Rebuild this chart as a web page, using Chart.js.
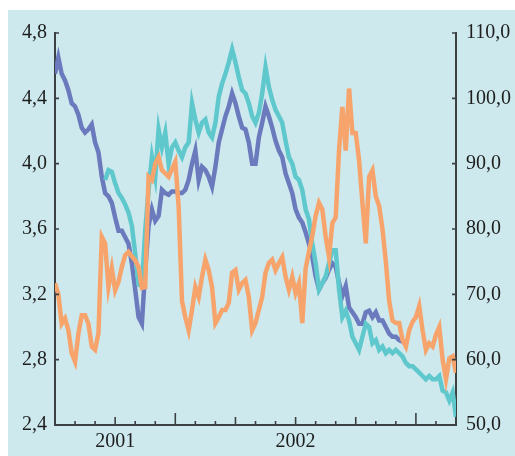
<!DOCTYPE html>
<html>
<head>
<meta charset="utf-8">
<script src="https://cdn.jsdelivr.net/npm/chart.js@4/dist/chart.umd.min.js"></script>
<style>
  body { margin: 0; background: #ffffff; }
  #wrap { position: absolute; left: 8px; top: 10px; width: 507px; height: 446px; background: #cde9ed; }
</style>
</head>
<body>
<div id="wrap"><canvas id="chart" width="507" height="446"></canvas></div>
<script>
// Three daily-ish series, one sample every ~5 days (6 per month), 20 months on the x axis

// left axis series
const purpleSeries = [
  4.55, 4.65, 4.55, 4.51, 4.45, 4.37, 4.35, 4.30, 4.22, 4.19,
  4.21, 4.24, 4.13, 4.07, 3.92, 3.82, 3.80, 3.76, 3.67, 3.59,
  3.59, 3.55, 3.51, 3.39, 3.23, 3.06, 3.02, 3.35, 3.62, 3.72,
  3.65, 3.68, 3.84, 3.82, 3.81, 3.83, 3.83, 3.82, 3.82, 3.84,
  3.90, 4.00, 4.08, 3.90, 3.98, 3.96, 3.92, 3.86, 3.98, 4.13,
  4.21, 4.29, 4.35, 4.43, 4.37, 4.29, 4.22, 4.21, 4.13, 4.00,
  4.00, 4.16, 4.25, 4.35, 4.29, 4.22, 4.14, 4.08, 4.04, 3.94,
  3.88, 3.82, 3.72, 3.67, 3.64, 3.58, 3.51, 3.43, 3.31, 3.23,
  3.27, 3.30, 3.35, 3.39, 3.37, 3.27, 3.19, 3.25, 3.12, 3.09,
  3.06, 3.02, 3.02, 3.09, 3.10, 3.06, 3.09, 3.04, 3.04, 3.00,
  2.96, 2.94, 2.94, 2.92, 2.91, null, null, null, null, null,
  null, null, null, null, null, null, null, null, null, null,
  null
];

const cyanSeries = [
  null, null, null, null, null, null, null, null, null, null,
  null, null, null, null, null, 3.90, 3.96, 3.95, 3.88, 3.82,
  3.79, 3.75, 3.70, 3.62, 3.45, 3.26, 3.25, 3.59, 3.84, 4.04,
  3.92, 4.21, 4.10, 4.19, 4.00, 4.10, 4.13, 4.08, 4.04, 4.10,
  4.13, 4.37, 4.27, 4.19, 4.25, 4.27, 4.19, 4.16, 4.25, 4.41,
  4.49, 4.55, 4.62, 4.70, 4.62, 4.53, 4.45, 4.43, 4.37, 4.29,
  4.25, 4.31, 4.43, 4.59, 4.47, 4.39, 4.33, 4.29, 4.25, 4.14,
  4.04, 4.00, 3.92, 3.90, 3.84, 3.72, 3.66, 3.51, 3.39, 3.23,
  3.27, 3.31, 3.39, 3.47, 3.47, 3.23, 3.06, 3.10, 3.04, 2.94,
  2.90, 2.86, 2.94, 3.02, 3.00, 2.90, 2.92, 2.86, 2.88, 2.84,
  2.86, 2.84, 2.86, 2.84, 2.82, 2.78, 2.76, 2.76, 2.74, 2.72,
  2.70, 2.68, 2.70, 2.68, 2.68, 2.70, 2.61, 2.60, 2.55, 2.60,
  2.45
];

// right axis series
const orangeSeries = [
  71.7, 70.0, 65.5, 66.3, 64.5, 61.0, 59.7, 64.0, 66.8, 66.8,
  65.5, 62.0, 61.5, 64.0, 78.8, 77.8, 71.1, 74.0, 70.6, 71.9,
  74.2, 76.0, 76.5, 75.8, 75.2, 74.2, 71.0, 71.1, 88.0, 87.5,
  90.0, 91.0, 89.0, 88.5, 88.0, 89.2, 90.3, 83.4, 69.0, 66.5,
  64.5, 67.6, 71.1, 69.6, 72.7, 75.3, 73.7, 71.1, 65.6, 66.5,
  67.6, 67.6, 68.7, 73.3, 73.7, 70.7, 71.7, 72.2, 69.6, 64.5,
  65.6, 67.6, 69.6, 73.3, 74.8, 75.3, 73.7, 74.8, 75.7, 72.7,
  70.7, 72.7, 70.2, 71.7, 65.6, 74.0, 76.5, 79.0, 82.0, 84.0,
  83.0, 78.8, 75.7, 80.9, 81.8, 92.1, 98.7, 92.0, 101.5, 94.7,
  94.7, 90.5, 84.0, 77.8, 88.0, 89.0, 85.0, 83.5, 80.0, 75.0,
  69.0, 66.0, 65.6, 65.6, 63.0, 62.0, 64.5, 65.8, 66.5, 68.2,
  64.5, 61.5, 62.5, 62.0, 63.8, 65.0, 60.0, 57.0, 60.2, 60.5,
  58.0
];

const samplesPerMonth = 6;
const monthCount = 20;

// x labels and the month they sit under
const yearLabels = ['2001', '2002'];
const yearLabelMonths = [3, 12];

// axis ranges
const leftMin = 2.4, leftMax = 4.8, leftStep = 0.4;
const rightMin = 50, rightMax = 110, rightStep = 10;

const axisColor = '#3c4244';
const textColor = '#1e1e1e';

function toPoints(values) {
    return values.map((v, i) => ({ x: i / samplesPerMonth, y: v }));
}

function commaNumber(v) {
    return v.toFixed(1).replace('.', ',');
}

// tick marks point into the plot; x ticks longer at quarters and years
const inwardTicks = {
    id: 'inwardTicks',
    afterDraw(chart) {
        const { ctx } = chart;
        const x = chart.scales.x, y = chart.scales.y, y1 = chart.scales.y1;
        ctx.save();
        ctx.strokeStyle = axisColor;
        ctx.lineWidth = 1.6;
        ctx.beginPath();
        x.ticks.forEach(t => {
            const px = x.getPixelForValue(t.value);
            let len = 4;
            if (t.value % 12 === 6) len = 12;
            else if (t.value % 3 === 0) len = 8;
            ctx.moveTo(px, x.top);
            ctx.lineTo(px, x.top - len);
        });
        y.ticks.forEach(t => {
            const py = y.getPixelForValue(t.value);
            ctx.moveTo(y.right, py);
            ctx.lineTo(y.right + 4, py);
        });
        y1.ticks.forEach(t => {
            const py = y1.getPixelForValue(t.value);
            ctx.moveTo(y1.left, py);
            ctx.lineTo(y1.left - 4, py);
        });
        ctx.stroke();
        ctx.restore();
    }
};

const font = { family: '"Liberation Serif", "Times New Roman", serif', size: 20 };

new Chart(document.getElementById('chart'), {
    type: 'line',
    data: {
        datasets: [
            {
                label: 'orange',
                data: toPoints(orangeSeries),
                yAxisID: 'y1',
                borderColor: '#f7a46c',
                order: 0
            },
            {
                label: 'cyan',
                data: toPoints(cyanSeries),
                yAxisID: 'y',
                borderColor: '#5ec8cd',
                order: 1
            },
            {
                label: 'purple',
                data: toPoints(purpleSeries),
                yAxisID: 'y',
                borderColor: '#6b79bd',
                order: 2
            }
        ]
    },
    options: {
        responsive: false,
        animation: false,
        layout: { padding: { top: 23 } },
        elements: {
            line: { borderWidth: 4.5, tension: 0, borderJoinStyle: 'miter' },
            point: { radius: 0 }
        },
        plugins: {
            legend: { display: false },
            tooltip: { enabled: false }
        },
        scales: {
            x: {
                type: 'linear',
                min: 0,
                max: monthCount,
                afterFit: s => { s.height = 31; },
                grid: { display: false, drawTicks: false },
                border: { display: true, color: axisColor, width: 2 },
                ticks: {
                    stepSize: 1,
                    autoSkip: false,
                    maxRotation: 0,
                    padding: 5,
                    color: textColor,
                    font: font,
                    callback: v => {
                        const i = yearLabelMonths.indexOf(v);
                        return i >= 0 ? yearLabels[i] : '';
                    }
                }
            },
            y: {
                position: 'left',
                min: leftMin,
                max: leftMax,
                afterFit: s => { s.width = 47; },
                grid: { display: false, drawTicks: false },
                border: { display: true, color: axisColor, width: 2 },
                ticks: {
                    stepSize: leftStep,
                    padding: 8,
                    color: textColor,
                    font: font,
                    callback: v => commaNumber(v)
                }
            },
            y1: {
                position: 'right',
                min: rightMin,
                max: rightMax,
                afterFit: s => { s.width = 59; },
                grid: { display: false, drawTicks: false },
                border: { display: true, color: axisColor, width: 2 },
                ticks: {
                    stepSize: rightStep,
                    padding: 10,
                    color: textColor,
                    font: font,
                    callback: v => commaNumber(v)
                }
            }
        }
    },
    plugins: [inwardTicks]
});
</script>
</body>
</html>
